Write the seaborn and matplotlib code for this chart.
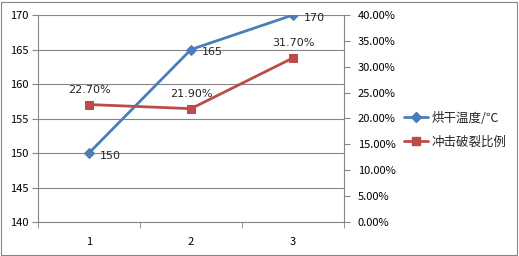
import matplotlib
matplotlib.use("Agg")
import matplotlib.pyplot as plt
import seaborn as sns
import pandas as pd
from matplotlib.ticker import FuncFormatter, FixedLocator
from matplotlib.lines import Line2D
from matplotlib.patches import Rectangle

categories = [1, 2, 3]
temp = [150, 165, 170]
ratio = [22.7, 21.9, 31.7]
temp_name = "烘干温度/℃"
ratio_name = "冲击破裂比例"

sns.set_style("white")
plt.rcParams['font.family'] = ['Noto Sans CJK SC', 'DejaVu Sans']

blue = "#4A7EBB"
red = "#BE4B48"
grid_c = "#868686"

fig = plt.figure(figsize=(5.19, 2.56), dpi=100)
ax = fig.add_axes([38/519, 34/256, 306/519, 207/256])
ax2 = ax.twinx()

df = pd.DataFrame({"x": categories, "t": temp, "r": ratio})
sns.lineplot(data=df, x="x", y="t", ax=ax, color=blue, lw=2, marker="D", markersize=5,
             markeredgecolor=blue, label=temp_name, legend=False)
sns.lineplot(data=df, x="x", y="r", ax=ax2, color=red, lw=2, marker="s", markersize=6,
             markeredgecolor=red, label=ratio_name, legend=False)

ax.set_xlim(0.5, 3.5)
ax.set_ylim(140, 170)
ax2.set_ylim(0, 40)
ax.set_yticks(range(140, 171, 5))
ax2.set_yticks(range(0, 41, 5))
ax2.yaxis.set_major_formatter(FuncFormatter(lambda v, p: f"{v:.2f}%"))
ax.set_xticks(categories)
ax.xaxis.set_minor_locator(FixedLocator([0.5, 1.5, 2.5, 3.5]))
ax.set_xlabel("")
ax.set_ylabel("")
ax2.set_ylabel("")

ax.grid(axis="y", color=grid_c, lw=0.8)
ax.set_axisbelow(True)
for s in ["top"]:
    ax.spines[s].set_visible(False)
    ax2.spines[s].set_visible(False)
ax.spines["right"].set_visible(False)
ax2.spines["left"].set_visible(False)
ax2.spines["bottom"].set_visible(False)
for sp in [ax.spines["left"], ax.spines["bottom"], ax2.spines["right"]]:
    sp.set_color(grid_c)
    sp.set_linewidth(0.8)

ax.tick_params(axis="y", which="major", length=4, color=grid_c, direction="out", labelsize=8, pad=3, left=True, labelcolor="black")
ax.tick_params(axis="x", which="major", length=0, labelsize=8, pad=11, labelcolor="black")
ax.tick_params(axis="x", which="minor", length=4, color=grid_c, direction="out", bottom=True)
ax2.tick_params(axis="y", length=4, color=grid_c, direction="out", labelsize=8, pad=6, right=True, labelcolor="black")

for x, v in zip(categories, temp):
    ax.annotate(f"{v}", (x, v), xytext=(8, -2), textcoords="offset points",
                ha="left", va="center", fontsize=8, family="DejaVu Sans")
for x, v in zip(categories, ratio):
    ax2.annotate(f"{v:.2f}%", (x, v), xytext=(0, 7), textcoords="offset points",
                 ha="center", va="bottom", fontsize=8, family="DejaVu Sans")

handles = [Line2D([], [], color=blue, lw=2, marker="D", markersize=5),
           Line2D([], [], color=red, lw=2, marker="s", markersize=6)]
fig.legend(handles, [temp_name, ratio_name], loc="center left",
           bbox_to_anchor=(398/519, 1 - 130/256), frameon=False, fontsize=9,
           handlelength=1.9, handletextpad=0.3, labelspacing=0.85, borderpad=0)

fig.patches.append(Rectangle((0.002, 0.004), 0.994, 0.99, transform=fig.transFigure,
                             fill=False, edgecolor=grid_c, lw=0.8))

fig.savefig("out.png", dpi=100)
